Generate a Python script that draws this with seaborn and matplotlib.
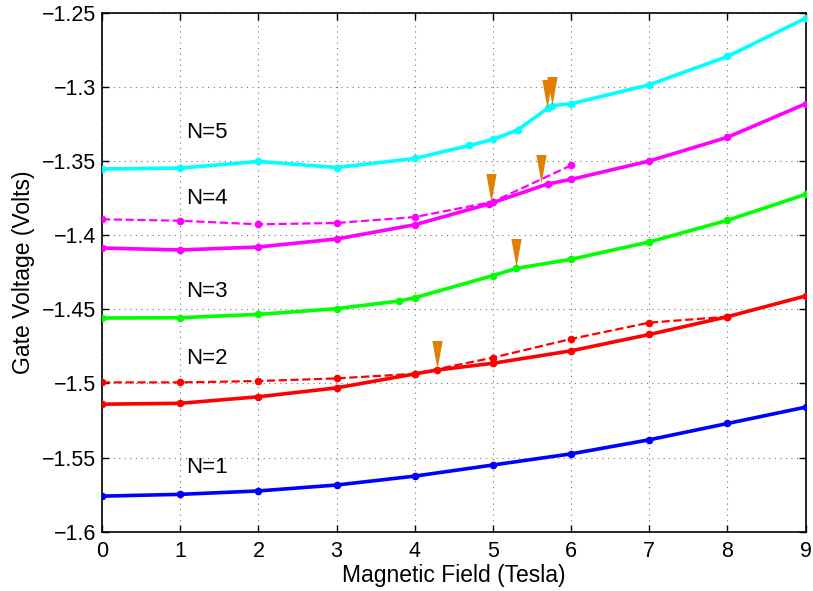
import matplotlib
matplotlib.use("Agg")
import matplotlib.pyplot as plt
import numpy as np
import pandas as pd
import seaborn as sns

# N=1
n1_x = [0, 1, 2, 3, 4, 5, 6, 7, 8, 9]
n1_y = [-1.576, -1.5748, -1.5725, -1.5685, -1.5625, -1.555, -1.5475, -1.538, -1.527, -1.516]

# N=2 (solid and dashed)
n2_x = [0, 1, 2, 3, 4, 4.28, 5, 6, 7, 8, 9]
n2_y = [-1.514, -1.5134, -1.509, -1.503, -1.4936, -1.491, -1.4864, -1.478, -1.467, -1.455, -1.441]
n2d_x = [0, 1, 2, 3, 4, 5, 6, 7, 8]
n2d_y = [-1.4993, -1.4993, -1.4984, -1.4966, -1.4935, -1.4826, -1.470, -1.459, -1.455]

# N=3
n3_x = [0, 1, 2, 3, 3.8, 4, 5, 5.3, 6, 7, 8, 9]
n3_y = [-1.4559, -1.4557, -1.4534, -1.4496, -1.4444, -1.4422, -1.4273, -1.4224,
        -1.4163, -1.4046, -1.390, -1.3725]

# N=4 (solid and dashed)
n4_x = [0, 1, 2, 3, 4, 4.95, 5.7, 6, 7, 8, 9]
n4_y = [-1.4087, -1.410, -1.408, -1.4026, -1.393, -1.379, -1.3655, -1.3624, -1.350, -1.334, -1.3114]
n4d_x = [0, 1, 2, 3, 4, 5, 6]
n4d_y = [-1.3893, -1.3903, -1.3927, -1.3918, -1.3878, -1.3775, -1.3529]

# N=5
n5_x = [0, 1, 2, 3, 4, 4.7, 5, 5.32, 5.7, 5.75, 6, 7, 8, 9]
n5_y = [-1.3554, -1.3548, -1.3503, -1.3544, -1.3483, -1.3395, -1.3355, -1.329,
        -1.3145, -1.3127, -1.3114, -1.2986, -1.2795, -1.2537]

# transition markers (arrow tips)
arrow_x = [5.69, 5.76, 5.61, 4.97, 5.30, 4.28]
arrow_y = [-1.3140, -1.3122, -1.3650, -1.3775, -1.4215, -1.4900]

labels = ["N=1", "N=2", "N=3", "N=4", "N=5"]
label_x = [1.07, 1.07, 1.07, 1.07, 1.07]
label_y = [-1.557, -1.483, -1.438, -1.375, -1.331]

sns.set_style("white")
plt.rcParams['font.family'] = ['Liberation Sans', 'DejaVu Sans']
plt.rcParams['axes.unicode_minus'] = True
for k in ['text.color', 'axes.labelcolor', 'xtick.color', 'ytick.color']:
    plt.rcParams[k] = 'black'

fig = plt.figure(figsize=(8.13, 5.91), dpi=100)
ax = fig.add_axes([0.1255, 0.1003, 0.8655, 0.8782])

series = [
    (n1_x, n1_y, "#0000FF", "-"),
    (n2_x, n2_y, "#FF0000", "-"),
    (n2d_x, n2d_y, "#FF0000", "--"),
    (n3_x, n3_y, "#00FF00", "-"),
    (n4_x, n4_y, "#FF00FF", "-"),
    (n4d_x, n4d_y, "#FF00FF", "--"),
    (n5_x, n5_y, "#00FFFF", "-"),
]
for xs, ys, col, ls in series:
    df = pd.DataFrame({"x": xs, "y": ys})
    lw = 2.6 if ls == "-" else 1.6
    sns.lineplot(data=df, x="x", y="y", ax=ax, color=col, linestyle=ls, lw=lw,
                 marker="o", markersize=5.5, markeredgewidth=0, sort=False,
                 estimator=None, zorder=3)

# narrow downward triangles with tip at the data point
tri = [(0, 0), (-0.18, 1), (0.18, 1), (0, 0)]
ax.plot(arrow_x, arrow_y, linestyle="none", marker=tri, markersize=41,
        color="#E07F00", markeredgewidth=0, zorder=4)

for t, tx, ty in zip(labels, label_x, label_y):
    ax.text(tx, ty, t, fontsize=16, va="center", ha="left", color="black")

ax.set_xlim(0, 9)
ax.set_ylim(-1.6, -1.25)
ax.set_xticks(np.arange(0, 10, 1))
ax.set_yticks(np.arange(-1.6, -1.2499, 0.05))
ax.yaxis.set_major_formatter(plt.FuncFormatter(lambda v, p: ("%g" % round(v, 2)).replace("-", "\u2212")))
ax.grid(True, linestyle=(0, (1, 4)), color="0.45", lw=0.8)
ax.tick_params(direction="in", length=5, width=1, labelsize=15.5, colors="black",
               top=True, right=True, bottom=True, left=True)
ax.tick_params(axis="x", pad=7)
ax.tick_params(axis="y", pad=4)
for s in ax.spines.values():
    s.set_color("black")
    s.set_linewidth(1.2)

ax.set_xlabel("Magnetic Field (Tesla)", fontsize=16.5, labelpad=1, color="black")
ax.set_ylabel("Gate Voltage (Volts)", fontsize=16.5, labelpad=5, color="black")

fig.savefig("out.png", dpi=100)
